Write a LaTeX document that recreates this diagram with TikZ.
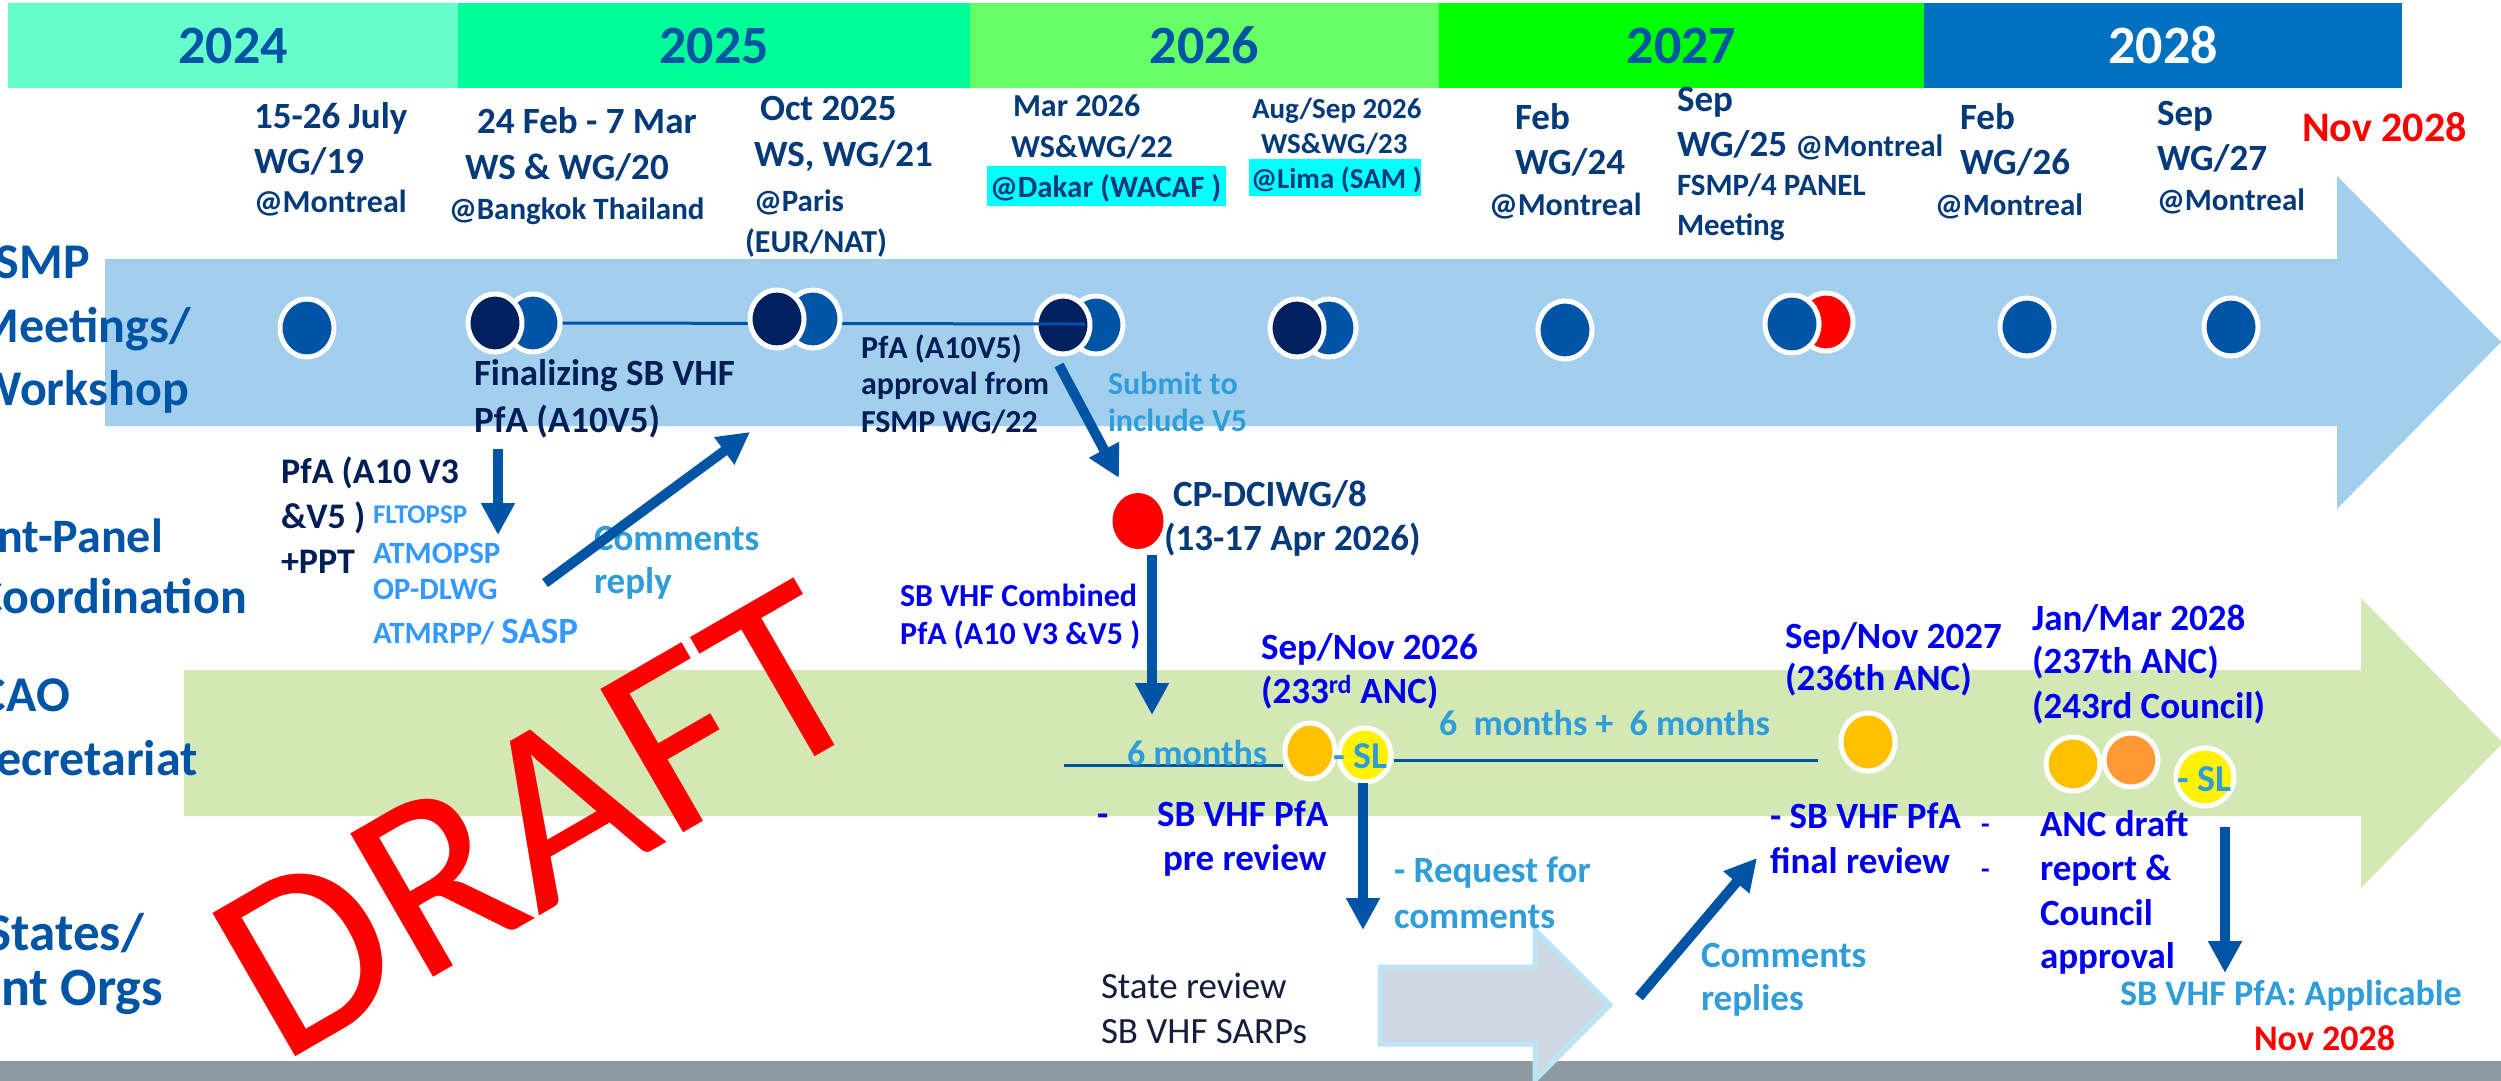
\documentclass[tikz,border=0pt]{standalone}
\usepackage{fontspec}
\setmainfont{Carlito}
\usetikzlibrary{arrows.meta,shapes.geometric,calc}
\definecolor{navyA}{RGB}{4,58,122}
\definecolor{navyB}{RGB}{0,30,85}
\definecolor{lblue}{RGB}{0,84,166}
\definecolor{dkc}{RGB}{0,32,96}
\definecolor{skyA}{RGB}{46,157,218}
\definecolor{skyB}{RGB}{51,153,255}
\definecolor{pblue}{RGB}{0,0,240}
\definecolor{bandA}{RGB}{163,207,238}
\definecolor{bandB}{RGB}{211,232,181}
\definecolor{gbar}{RGB}{140,153,160}
\definecolor{garrow}{RGB}{207,216,224}
\definecolor{garrowedge}{RGB}{189,227,247}
\definecolor{yA}{RGB}{102,255,204}
\definecolor{yB}{RGB}{0,255,153}
\definecolor{yC}{RGB}{102,255,102}
\definecolor{yD}{RGB}{0,255,0}
\definecolor{yE}{RGB}{0,112,192}
\definecolor{orA}{RGB}{255,192,0}
\definecolor{orB}{RGB}{255,153,51}
\definecolor{stxt}{RGB}{20,30,60}
\definecolor{hil}{RGB}{0,255,255}
\newcommand\fsz[1]{\fontsize{#1}{#1}\selectfont}
\begin{document}
\begin{tikzpicture}[x=1pt,y=-1pt,
  tx/.style={inner sep=0pt, outer sep=0pt, anchor=base west},
  nv/.style={tx, text=navyA, font=\bfseries\fsz{#1}},
  nb/.style={tx, text=navyB, font=\bfseries\fsz{#1}},
  sk/.style={tx, text=skyA, font=\bfseries\fsz{#1}},
  sb/.style={tx, text=skyB, font=\bfseries\fsz{#1}},
  pb/.style={tx, text=pblue, font=\bfseries\fsz{#1}},
  rd/.style={tx, text=red, font=\bfseries\fsz{#1}},
  st/.style={tx, text=stxt, font=\fsz{#1}},
  rowlab/.style={inner sep=0pt, anchor=base east, text=lblue, font=\bfseries\fsz{#1}},
  yrbox/.style={rectangle, inner sep=0pt, minimum height=85, text=lblue, font=\bfseries\fsz{54}},
  dot/.style={ellipse, draw=white, line width=5pt, minimum width=54, minimum height=58, inner sep=0pt},
  arr/.style={draw=lblue, line width=10pt, -{Triangle[length=32pt,width=32pt]}},
  thinln/.style={draw=lblue, line width=3pt},
]
\useasboundingbox (0,0) rectangle (2501,1081);
\clip (0,0) rectangle (2501,1081);
\fill[white] (0,0) rectangle (2501,1081);

% year bar
\node[yrbox, fill=yA, minimum width=450] (y2024) at (233,45.5) {2024};
\node[yrbox, fill=yB, minimum width=512] (y2025) at (714,45.5) {2025};
\node[yrbox, fill=yC, minimum width=469] (y2026) at (1204.5,45.5) {2026};
\node[yrbox, fill=yD, minimum width=485] (y2027) at (1681.5,45.5) {2027};
\node[yrbox, fill=yE, minimum width=478, text=white] (y2028) at (2163,45.5) {2028};

% bands
\fill[bandA] (105,259) -- (2337,259) -- (2337,176) -- (2501,342) -- (2337,509) -- (2337,426) -- (105,426) -- cycle;
\fill[bandB] (184,670) -- (2361,670) -- (2361,598) -- (2503,743) -- (2361,888) -- (2361,816) -- (184,816) -- cycle;
\fill[gbar] (0,1061) rectangle (2501,1081);
\filldraw[fill=garrow, draw=garrowedge, line width=5pt] (1380,967) -- (1535,967) -- (1535,930) -- (1610,1005) -- (1535,1080) -- (1535,1044) -- (1380,1044) -- cycle;

% row labels (cut by the left edge)
\node[rowlab=50] (r1) at (90,278) {FSMP};
\node[rowlab=50] (r2) at (191,342) {Meetings/};
\node[rowlab=50] (r3) at (189,405) {Workshop};
\node[rowlab=48] (r4) at (163,552) {Joint-Panel};
\node[rowlab=50] (r5) at (247,613) {Coordination};
\node[rowlab=50] (r6) at (70,711) {ICAO};
\node[rowlab=50] (r7) at (198,775) {Secretariat};
\node[rowlab=53] (r8) at (144,950) {States/};
\node[rowlab=54] (r9) at (163,1005) {Int Orgs};

% FSMP circles
\node[dot, fill=lblue] (c1) at (307,328) {};
\node[dot, fill=lblue] (c2b) at (533,323) {};
\node[dot, fill=dkc] (c2d) at (495,323) {};
\node[dot, fill=lblue] (c4b) at (1096,325) {};
\node[dot, fill=dkc] (c4d) at (1063,325) {};
\coordinate (c4x) at (1085,324);
\draw[thinln] (c2b.east) -- (c4x);
\node[dot, fill=lblue] (c3b) at (813,319) {};
\node[dot, fill=dkc] (c3d) at (777,319) {};
\node[dot, fill=lblue] (c5b) at (1329,328) {};
\node[dot, fill=dkc] (c5d) at (1297,328) {};
\node[dot, fill=lblue] (c6) at (1565,330) {};
\node[dot, fill=red] (c7r) at (1826,322) {};
\node[dot, fill=lblue] (c7b) at (1792,324) {};
\node[dot, fill=lblue] (c8) at (2027,327) {};
\node[dot, fill=lblue] (c9) at (2231,327) {};

% ICAO circles
\node[dot, fill=orA, minimum width=50, minimum height=56] (o1) at (1310,751) {};
\node[dot, fill=yellow, minimum width=52, minimum height=54] (yl1) at (1365,755) {};
\node[dot, fill=orA] (o2) at (1868,742) {};
\node[dot, fill=orB, minimum width=54, minimum height=54] (o4) at (2131,760) {};
\node[dot, fill=orA, minimum width=54, minimum height=54] (o3) at (2073,764) {};
\node[dot, fill=yellow, minimum width=58, minimum height=58] (yl2) at (2205,777) {};
\coordinate (m6s) at (1064,765);
\draw[thinln] (m6s) -- (o1.west |- m6s);
\coordinate (m12e) at (1818,760);
\draw[thinln] (yl1.east |- m12e) -- (m12e);

% CP-DCIWG red circle
\node[ellipse, fill=red, minimum width=51, minimum height=56, inner sep=0pt] (cp) at (1138,521) {};

% top event texts
\node[nv=37] (e1a) at (254,128) {15-26 July};
\node[nv=37] (e1b) at (254,173) {WG/19};
\node[nv=32] (e1c) at (254,212) {@Montreal};
\node[nv=37] (e2a) at (477,133) {24 Feb - 7 Mar};
\node[nv=37] (e2b) at (465,179) {WS \& WG/20};
\node[nv=31] (e2c) at (449,219) {@Bangkok Thailand};
\node[nv=37] (e3a) at (760,121) {Oct 2025};
\node[nv=37] (e3b) at (754,166) {WS, WG/21};
\node[nv=31] (e3c) at (754,211) {@Paris};
\node[nv=32] (e3d) at (745,252) {(EUR/NAT)};
\node[nv=32] (e4a) at (1013,117) {Mar 2026};
\node[nv=32] (e4b) at (1011,157) {WS\&WG/22};
\fill[hil] (987,166) rectangle (1226,206);
\node[nv=31] (e4c) at (990,197) {@Dakar (WACAF )};
\node[nv=29] (e5a) at (1252,118) {Aug/Sep 2026};
\node[nv=29] (e5b) at (1261,153) {WS\&WG/23};
\fill[hil] (1249,159) rectangle (1421,196);
\node[nv=29] (e5c) at (1251,188) {@Lima (SAM )};
\node[nv=37] (e6a) at (1515,129) {Feb};
\node[nv=37] (e6b) at (1515,174) {WG/24};
\node[nv=32] (e6c) at (1489,215) {@Montreal};
\node[nv=37] (e7a) at (1677,111) {Sep};
\node[nv=37] (e7b) at (1677,156) {WG/25 {\fsz{31}@Montreal}};
\node[nv=31] (e7c) at (1677,195) {FSMP/4 PANEL};
\node[nv=31] (e7d) at (1677,235) {Meeting};
\node[nv=37] (e8a) at (1960,129) {Feb};
\node[nv=37] (e8b) at (1960,174) {WG/26};
\node[nv=31] (e8c) at (1935,215) {@Montreal};
\node[nv=37] (e9a) at (2157,125) {Sep};
\node[nv=37] (e9b) at (2157,170) {WG/27};
\node[nv=31] (e9c) at (2157,210) {@Montreal};
\node[rd=42] (nov1) at (2302,141) {Nov 2028};

% FSMP band texts
\node[nb=37] (fin1) at (474,385) {Finalizing SB VHF};
\node[nb=37] (fin2) at (474,432) {PfA (A10V5)};
\node[nb=32] (ap1) at (861,358) {PfA (A10V5)};
\node[nb=32] (ap2) at (861,394) {approval from};
\node[nb=32] (ap3) at (861,432) {FSMP WG/22};
\node[sk=32] (sub1) at (1108,394) {Submit to};
\node[sk=32] (sub2) at (1108,431) {include V5};

% inter-panel texts
\node[nv=37] (cp1) at (1173,506) {CP-DCIWG/8};
\node[nv=37] (cp2) at (1164,550) {(13-17 Apr 2026)};
\node[nb=36] (pf1) at (281,483) {PfA (A10 V3};
\node[nb=36] (pf2) at (281,528) {\&V5 )};
\node[nb=36] (pf3) at (281,573) {+PPT};
\node[sb=27] (pn1) at (373,523) {FLTOPSP};
\node[sb=31] (pn2) at (373,563) {ATMOPSP};
\node[sb=31] (pn3) at (373,599) {OP-DLWG};
\node[sb=31] (pn4) at (373,643) {ATMRPP/ {\fsz{37}SASP}};
\node[sk=37] (cr1) at (594,550) {Comments};
\node[sk=37] (cr2) at (594,593) {reply};
\node[pb=32] (cb1) at (900,606) {SB VHF Combined};
\node[pb=32] (cb2) at (900,644) {PfA (A10 V3 \&V5 )};

% ICAO band texts
\node[sk=36] (m6) at (1127,765) {6 months};
\node[pb=37] (an1) at (1261,659) {Sep/Nov 2026};
\node[pb=37] (an2) at (1261,703) {(233\textsuperscript{rd} ANC)};
\node[sk=36] (m12) at (1439,735) {6~~months +~~6 months};
\node[pb=37] (an3) at (1785,648) {Sep/Nov 2027};
\node[pb=37] (an4) at (1785,690) {(236th ANC)};
\node[pb=37] (an5) at (2032,630) {Jan/Mar 2028};
\node[pb=37] (an6) at (2032,673) {(237th ANC)};
\node[pb=37] (an7) at (2032,718) {(243rd Council)};
\node[sk=38] (sl1) at (1333,768) {- SL};
\node[sk=38] (sl2) at (2177,791) {- SL};

% below ICAO band
\node[pb=37] (pr0) at (1097,826) {-};
\node[pb=37] (pr1) at (1157,826) {SB VHF PfA};
\node[pb=37] (pr2) at (1163,870) {pre review};
\node[sk=37] (rq1) at (1394,882) {- Request for};
\node[sk=37] (rq2) at (1394,928) {comments};
\node[st=37] (sr1) at (1101,998) {State review};
\node[st=37] (sr2) at (1101,1043) {SB VHF SARPs};
\node[sk=37] (rp1) at (1701,967) {Comments};
\node[sk=37] (rp2) at (1701,1010) {replies};
\node[pb=37] (fr1) at (1770,828) {- SB VHF PfA};
\node[pb=37] (fr2) at (1770,873) {final review};
\node[pb=28] (fd1) at (1981,833) {-};
\node[pb=28] (fd2) at (1981,878) {-};
\node[pb=37] (ad1) at (2040,836) {ANC draft};
\node[pb=37] (ad2) at (2040,880) {report \&};
\node[pb=37] (ad3) at (2040,925) {Council};
\node[pb=37] (ad4) at (2040,968) {approval};
\node[sk=36] (apl) at (2120,1005) {SB VHF PfA: Applicable};
\node[rd=36] (nov2) at (2254,1050) {Nov 2028};

% arrows
\coordinate (a1s) at (498,449);
\coordinate (a1e) at (498,535);
\draw[arr] (a1s) -- (a1e);
\coordinate (a2s) at (545,583);
\coordinate (a2e) at (750,432);
\draw[arr] (a2s) -- (a2e);
\coordinate (a3s) at (1059,365);
\coordinate (a3e) at (1119,478);
\draw[arr] (a3s) -- (a3e);
\coordinate (a4s) at (1152,555);
\coordinate (a4e) at (1152,715);
\draw[arr] (a4s) -- (a4e);
\coordinate (a5s) at (1363,783);
\coordinate (a5e) at (1363,930);
\draw[arr] (a5s) -- (a5e);
\coordinate (a6s) at (1639,997);
\coordinate (a6e) at (1757,858);
\draw[arr] (a6s) -- (a6e);
\coordinate (a7s) at (2225,827);
\coordinate (a7e) at (2225,973);
\draw[arr] (a7s) -- (a7e);

% watermark
\node[inner sep=0pt, anchor=base west, rotate=30, text=red, font=\fsz{258}] (draft) at (280,1066) {DRAFT};
\end{tikzpicture}
\end{document}
